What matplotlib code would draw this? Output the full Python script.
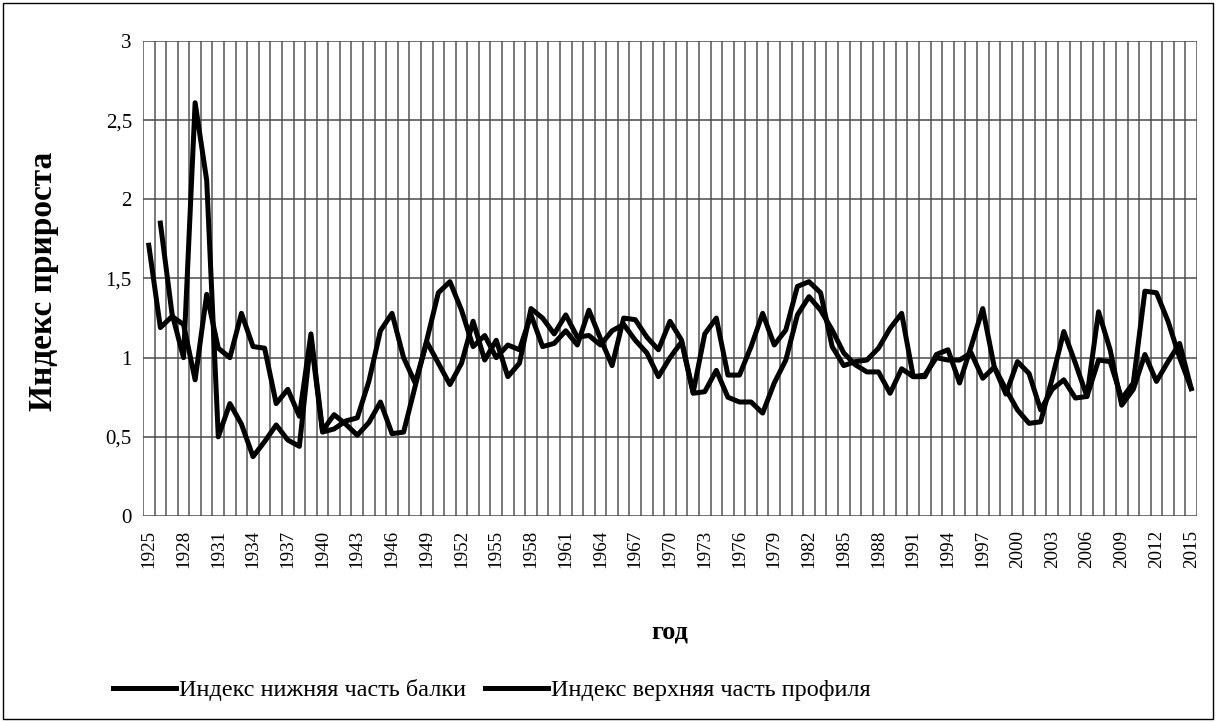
import matplotlib
matplotlib.use("Agg")
import matplotlib.pyplot as plt
from matplotlib.patches import Rectangle
import numpy as np

years = list(range(1925, 2016))

lower_beam = [
    1.71, 1.19, 1.26, 1.21, 0.86, 1.40, 1.06, 1.00, 1.28, 1.07,
    1.06, 0.71, 0.80, 0.63, 1.15, 0.54, 0.64, 0.58, 0.51, 0.59,
    0.72, 0.52, 0.53, 0.82, 1.11, 1.41, 1.48, 1.30, 1.07, 1.14,
    1.00, 1.08, 1.05, 1.27, 1.07, 1.09, 1.17, 1.08, 1.30, 1.12,
    0.95, 1.25, 1.24, 1.13, 1.05, 1.23, 1.11, 0.78, 1.15, 1.25,
    0.89, 0.89, 1.07, 1.28, 1.08, 1.175, 1.45, 1.48, 1.41, 1.07,
    0.95, 0.975, 0.985, 1.06, 1.185, 1.28, 0.88, 0.88, 1.02, 1.05,
    0.84, 1.07, 1.31, 0.94, 0.77, 0.975, 0.90, 0.67, 0.80, 0.86,
    0.745, 0.755, 0.985, 0.975, 0.74, 0.84, 1.42, 1.41, 1.23, 1.00,
    0.805,
]

upper_profile = [
    None, 1.85, 1.28, 1.00, 2.61, 2.12, 0.50, 0.71, 0.58, 0.375,
    0.47, 0.575, 0.48, 0.44, 1.12, 0.53, 0.55, 0.60, 0.62, 0.85,
    1.17, 1.28, 1.00, 0.84, 1.10, 0.965, 0.83, 0.965, 1.23, 0.985,
    1.11, 0.88, 0.965, 1.31, 1.25, 1.15, 1.27, 1.13, 1.14, 1.08,
    1.17, 1.21, 1.11, 1.03, 0.88, 1.00, 1.10, 0.775, 0.785, 0.92,
    0.75, 0.72, 0.72, 0.65, 0.84, 0.985, 1.27, 1.385, 1.30, 1.175,
    1.03, 0.955, 0.91, 0.91, 0.775, 0.93, 0.88, 0.89, 1.00, 0.985,
    0.985, 1.03, 0.87, 0.94, 0.80, 0.67, 0.585, 0.595, 0.87, 1.165,
    0.965, 0.755, 1.29, 1.05, 0.70, 0.80, 1.02, 0.85, 0.975, 1.09,
    0.805,
]

series_names = ["Индекс нижняя часть балки", "Индекс верхняя часть профиля"]
y_ticks = [0, 0.5, 1, 1.5, 2, 2.5, 3]
y_tick_labels = ["0", "0,5", "1", "1,5", "2", "2,5", "3"]
x_label = "год"
y_label = "Индекс прироста"

plt.rcParams['font.family'] = ['Liberation Serif', 'DejaVu Serif']

W, H = 1216, 722
fig = plt.figure(figsize=(W / 100, H / 100), dpi=100)
ax = fig.add_axes([143 / W, 1 - 516 / H, (1197 - 143) / W, (516 - 41) / H])

x = np.arange(len(years))
a = np.array([np.nan if v is None else v for v in lower_beam], dtype=float)
b = np.array([np.nan if v is None else v for v in upper_profile], dtype=float)

l1, = ax.plot(x, a, color='black', lw=3.6, solid_joinstyle='round', zorder=3)
l2, = ax.plot(x, b, color='black', lw=3.6, solid_joinstyle='round', zorder=3)

ax.set_xlim(-0.5, len(years) - 0.5)
ax.set_ylim(0, 3)

ax.set_yticks(y_ticks)
ax.set_yticklabels(y_tick_labels, fontsize=15)
ax.set_xticks(x[::3])
ax.set_xticklabels([str(y) for y in years[::3]], rotation=90, fontsize=13.8)
ax.tick_params(axis='x', which='both', length=0, pad=10)
ax.tick_params(axis='y', which='both', length=0, pad=8)

ax.grid(False)
for xv in np.arange(-0.5, len(years), 1.0):
    ax.axvline(xv, color='#555555', lw=1.1, zorder=1)
for yv in y_ticks:
    ax.axhline(yv, color='#4a4a4a', lw=1.1, zorder=1)
for s in ax.spines.values():
    s.set_visible(False)

fig.text(670 / W, 1 - 632 / H, x_label, ha='center', va='center',
         fontsize=19, fontweight='bold')
fig.text(44 / W, 1 - 281 / H, y_label, ha='center', va='center',
         rotation=90, fontsize=24, fontweight='bold')

fig.legend([l1, l2], series_names, loc='center left',
           bbox_to_anchor=(113 / W, 1 - 690 / H), ncol=2, frameon=False,
           fontsize=17.5, handlelength=2.6, handletextpad=0.1,
           columnspacing=0.8, borderpad=0, borderaxespad=0)

fig.patches.append(Rectangle((3 / W, 3 / H), (W - 6) / W, (H - 6) / H,
                             transform=fig.transFigure, fill=False,
                             edgecolor='black', lw=1.0))

fig.savefig("out.png", dpi=100)
